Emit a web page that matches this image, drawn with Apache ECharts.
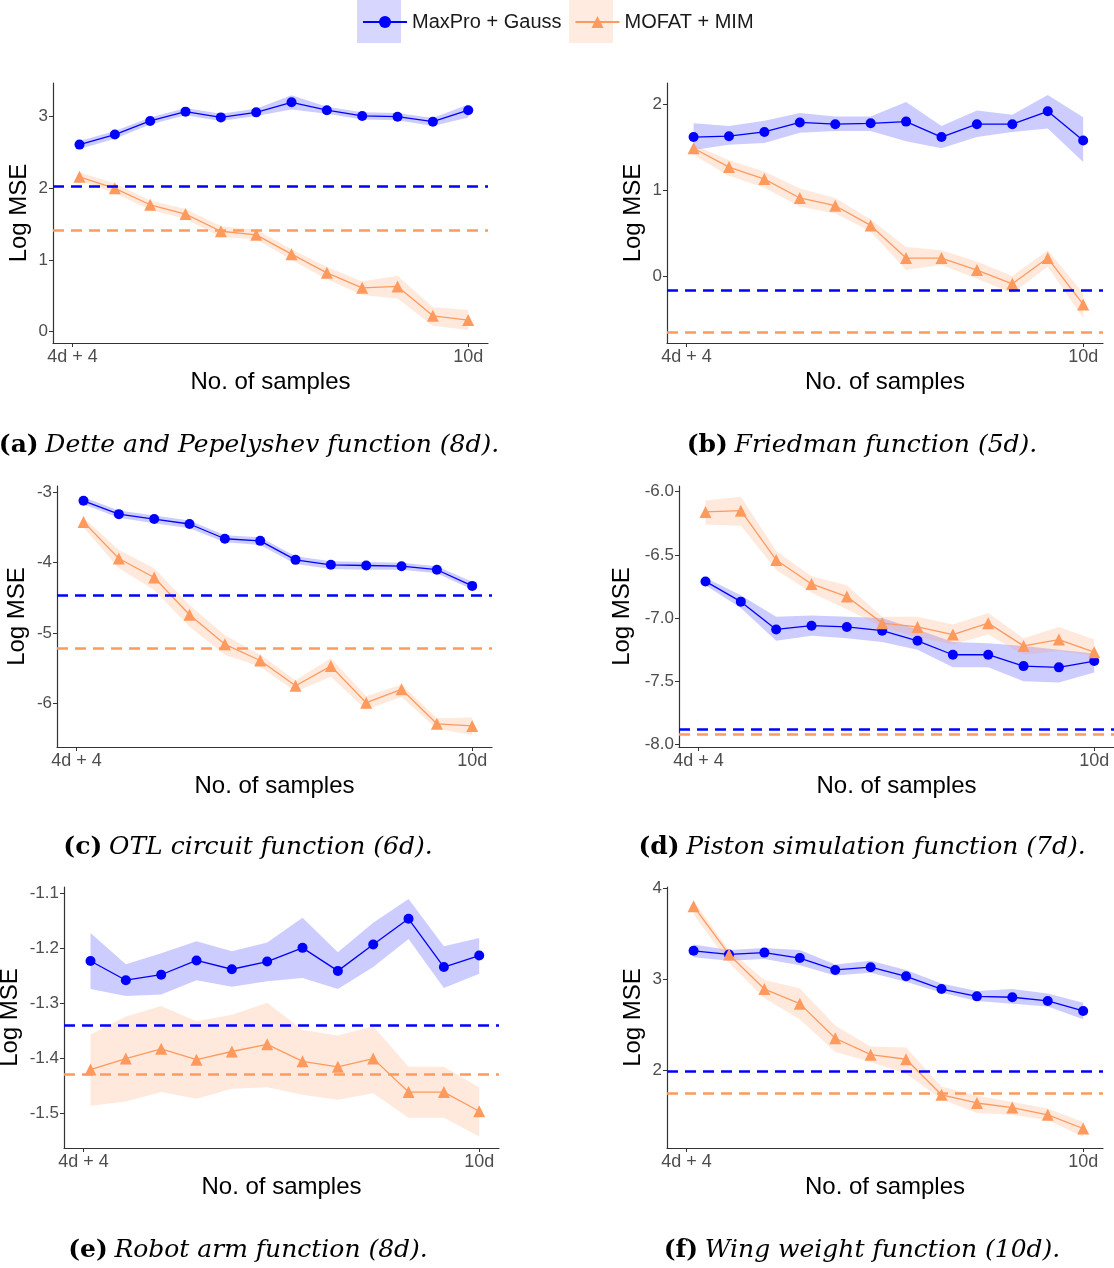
<!DOCTYPE html>
<html>
<head>
<meta charset="utf-8">
<script src="https://cdn.jsdelivr.net/npm/echarts@6/dist/echarts.min.js"></script>
<style>
html, body { margin: 0; padding: 0; background: #fff; }
#chart { width: 1114px; height: 1268px; }
</style>
</head>
<body>
<div id="chart"></div>
<script>
// 12 sample sizes, from 4d + 4 up to 10d
const sampleIdx = [0, 1, 2, 3, 4, 5, 6, 7, 8, 9, 10, 11];
const xTickPos = [-0.2, 11];
const xTickLabels = ['4d + 4', '10d'];

// (a) Dette and Pepelyshev
const aGauss   = [2.61, 2.75, 2.94, 3.07, 2.99, 3.06, 3.20, 3.09, 3.01, 3.00, 2.93, 3.09];
const aGaussLo = [2.55, 2.69, 2.89, 3.02, 2.94, 3.01, 3.10, 3.04, 2.96, 2.95, 2.87, 2.99];
const aGaussHi = [2.66, 2.80, 2.99, 3.12, 3.04, 3.11, 3.30, 3.14, 3.06, 3.05, 2.98, 3.17];
const aMim     = [2.16, 2.00, 1.77, 1.64, 1.40, 1.35, 1.08, 0.82, 0.61, 0.63, 0.22, 0.16];
const aMimLo   = [2.11, 1.93, 1.70, 1.57, 1.32, 1.29, 1.00, 0.73, 0.51, 0.46, 0.08, 0.02];
const aMimHi   = [2.22, 2.07, 1.83, 1.71, 1.47, 1.42, 1.15, 0.90, 0.70, 0.78, 0.34, 0.30];
const aRef     = [2.03, 1.41];

// (b) Friedman
const bGauss   = [1.62, 1.63, 1.68, 1.79, 1.77, 1.78, 1.80, 1.62, 1.77, 1.77, 1.92, 1.58];
const bGaussLo = [1.47, 1.53, 1.55, 1.67, 1.69, 1.69, 1.57, 1.49, 1.62, 1.68, 1.72, 1.33];
const bGaussHi = [1.78, 1.75, 1.81, 1.90, 1.86, 1.86, 2.03, 1.75, 1.93, 1.88, 2.11, 1.85];
const bMim     = [1.49, 1.27, 1.13, 0.91, 0.82, 0.59, 0.21, 0.21, 0.07, -0.09, 0.21, -0.33];
const bMimLo   = [1.41, 1.17, 1.03, 0.81, 0.73, 0.52, 0.07, 0.13, -0.03, -0.20, 0.11, -0.49];
const bMimHi   = [1.53, 1.35, 1.22, 1.02, 0.91, 0.66, 0.34, 0.30, 0.17, 0.00, 0.30, -0.20];
const bRef     = [-0.17, -0.66];

// (c) OTL circuit
const cGauss   = [-3.12, -3.31, -3.38, -3.45, -3.66, -3.69, -3.96, -4.03, -4.04, -4.05, -4.10, -4.33];
const cGaussLo = [-3.17, -3.36, -3.44, -3.51, -3.71, -3.75, -4.02, -4.09, -4.10, -4.10, -4.15, -4.38];
const cGaussHi = [-3.07, -3.26, -3.33, -3.40, -3.61, -3.64, -3.91, -3.98, -3.99, -4.00, -4.05, -4.27];
const cMim     = [-3.42, -3.94, -4.21, -4.74, -5.16, -5.39, -5.75, -5.47, -5.99, -5.80, -6.29, -6.32];
const cMimLo   = [-3.50, -4.08, -4.39, -4.91, -5.31, -5.48, -5.83, -5.62, -6.09, -5.91, -6.36, -6.45];
const cMimHi   = [-3.36, -3.82, -4.08, -4.60, -5.03, -5.31, -5.67, -5.36, -5.90, -5.73, -6.21, -6.20];
const cRef     = [-4.46, -5.22];

// (d) Piston simulation
const dGauss   = [-6.71, -6.87, -7.09, -7.06, -7.07, -7.10, -7.18, -7.29, -7.29, -7.38, -7.39, -7.34];
const dGaussLo = [-6.74, -6.92, -7.18, -7.14, -7.16, -7.19, -7.25, -7.39, -7.39, -7.50, -7.51, -7.43];
const dGaussHi = [-6.68, -6.82, -6.99, -6.98, -6.99, -7.00, -7.09, -7.19, -7.20, -7.22, -7.25, -7.28];
const dMim     = [-6.16, -6.15, -6.54, -6.73, -6.83, -7.04, -7.07, -7.13, -7.04, -7.22, -7.17, -7.27];
const dMimLo   = [-6.26, -6.27, -6.62, -6.80, -6.93, -7.07, -7.15, -7.21, -7.13, -7.29, -7.26, -7.30];
const dMimHi   = [-6.07, -6.04, -6.47, -6.67, -6.74, -6.99, -6.99, -7.05, -6.96, -7.16, -7.07, -7.17];
const dRef     = [-7.88, -7.92];

// (e) Robot arm
const eGauss   = [-1.223, -1.258, -1.248, -1.222, -1.238, -1.224, -1.199, -1.241, -1.193, -1.146, -1.234, -1.213];
const eGaussLo = [-1.274, -1.287, -1.284, -1.258, -1.270, -1.260, -1.254, -1.274, -1.234, -1.183, -1.272, -1.246];
const eGaussHi = [-1.172, -1.229, -1.209, -1.187, -1.205, -1.189, -1.144, -1.207, -1.153, -1.110, -1.196, -1.181];
const eMim     = [-1.421, -1.401, -1.383, -1.403, -1.388, -1.375, -1.406, -1.416, -1.401, -1.462, -1.462, -1.497];
const eMimLo   = [-1.487, -1.479, -1.462, -1.474, -1.456, -1.453, -1.467, -1.476, -1.464, -1.509, -1.509, -1.543];
const eMimHi   = [-1.357, -1.324, -1.305, -1.333, -1.321, -1.299, -1.349, -1.359, -1.342, -1.416, -1.416, -1.453];
const eRef     = [-1.339, -1.425];

// (f) Wing weight
const fGauss   = [3.31, 3.27, 3.29, 3.23, 3.10, 3.13, 3.03, 2.89, 2.81, 2.80, 2.76, 2.65];
const fGaussLo = [3.24, 3.20, 3.22, 3.15, 3.04, 3.07, 2.97, 2.85, 2.76, 2.73, 2.70, 2.56];
const fGaussHi = [3.38, 3.32, 3.34, 3.32, 3.16, 3.20, 3.10, 2.95, 2.87, 2.89, 2.84, 2.74];
const fMim     = [3.80, 3.27, 2.89, 2.73, 2.35, 2.17, 2.12, 1.73, 1.64, 1.59, 1.51, 1.36];
const fMimLo   = [3.71, 3.18, 2.79, 2.56, 2.20, 2.09, 1.96, 1.68, 1.53, 1.51, 1.45, 1.27];
const fMimHi   = [3.86, 3.32, 2.99, 2.90, 2.49, 2.26, 2.25, 1.82, 1.72, 1.65, 1.58, 1.43];
const fRef     = [1.99, 1.75];

const BLUE = '#0000ff';
const ORANGE = '#ff9a5e';
const BLUE_BAND = 'rgba(0,0,255,0.2)';
const ORANGE_BAND = 'rgba(255,154,94,0.22)';

const panels = [
    { tag: '(a)', title: 'Dette and Pepelyshev function (8d).', grid: { left: 53, top: 83, width: 435, height: 260 },
      yMin: -0.16, yMax: 3.47, yTicks: [0, 1, 2, 3], digits: 0, nameGap: 22, cap: [249, 445],
      g: aGauss, gLo: aGaussLo, gHi: aGaussHi, m: aMim, mLo: aMimLo, mHi: aMimHi, ref: aRef },
    { tag: '(b)', title: 'Friedman function (5d).', grid: { left: 667, top: 83, width: 436, height: 260 },
      yMin: -0.78, yMax: 2.25, yTicks: [0, 1, 2], digits: 0, nameGap: 22, cap: [862, 445],
      g: bGauss, gLo: bGaussLo, gHi: bGaussHi, m: bMim, mLo: bMimLo, mHi: bMimHi, ref: bRef },
    { tag: '(c)', title: 'OTL circuit function (6d).', grid: { left: 57, top: 486, width: 435, height: 261 },
      yMin: -6.62, yMax: -2.91, yTicks: [-6, -5, -4, -3], digits: 0, nameGap: 28, cap: [248, 847],
      g: cGauss, gLo: cGaussLo, gHi: cGaussHi, m: cMim, mLo: cMimLo, mHi: cMimHi, ref: cRef },
    { tag: '(d)', title: 'Piston simulation function (7d).', grid: { left: 679, top: 486, width: 435, height: 261 },
      yMin: -8.02, yMax: -5.955, yTicks: [-8, -7.5, -7, -6.5, -6], digits: 1, nameGap: 45, cap: [862, 847],
      g: dGauss, gLo: dGaussLo, gHi: dGaussHi, m: dMim, mLo: dMimLo, mHi: dMimHi, ref: dRef },
    { tag: '(e)', title: 'Robot arm function (8d).', grid: { left: 64, top: 887, width: 435, height: 261 },
      yMin: -1.564, yMax: -1.088, yTicks: [-1.5, -1.4, -1.3, -1.2, -1.1], digits: 1, nameGap: 42, cap: [248, 1250],
      g: eGauss, gLo: eGaussLo, gHi: eGaussHi, m: eMim, mLo: eMimLo, mHi: eMimHi, ref: eRef },
    { tag: '(f)', title: 'Wing weight function (10d).', grid: { left: 667, top: 887, width: 436, height: 261 },
      yMin: 1.146, yMax: 4.01, yTicks: [2, 3, 4], digits: 0, nameGap: 22, cap: [862, 1250],
      g: fGauss, gLo: fGaussLo, gHi: fGaussHi, m: fMim, mLo: fMimLo, mHi: fMimHi, ref: fRef }
];

function pts(ys) {
    return ys.map((y, i) => [sampleIdx[i], y]);
}
function bandRows(lo, hi) {
    return lo.map((v, i) => [sampleIdx[i], v, hi[i]]);
}

// ribbon: one polygon through all points, drawn on the first item
function bandSeries(i, rows, fill) {
    return {
        type: 'custom', xAxisIndex: i, yAxisIndex: i, silent: true,
        encode: { x: 0, y: [1, 2] },
        data: rows,
        renderItem: function (params, api) {
            if (params.dataIndexInside !== 0) return null;
            const top = [], bot = [];
            for (let k = 0; k < rows.length; k++) {
                top.push(api.coord([api.value(0, k), api.value(2, k)]));
                bot.push(api.coord([api.value(0, k), api.value(1, k)]));
            }
            return { type: 'polygon', shape: { points: top.concat(bot.reverse()) }, style: { fill: fill } };
        }
    };
}

const axisCol = '#333333';
const labelCol = '#4d4d4d';

let grids = [], xAxes = [], yAxes = [], series = [], graphics = [];

panels.forEach((p, i) => {
    grids.push(Object.assign({ outerBoundsMode: 'none', containLabel: false }, p.grid));
    xAxes.push({
        type: 'value', gridIndex: i, min: -0.75, max: 11.56,
        name: 'No. of samples', nameLocation: 'middle', nameGap: 27,
        nameTextStyle: { fontSize: 24, color: '#000', fontFamily: 'Liberation Sans' },
        splitLine: { show: false },
        axisLine: { onZero: false, lineStyle: { color: axisCol, width: 1.2 } },
        axisTick: { customValues: xTickPos, length: 4, lineStyle: { color: axisCol } },
        axisLabel: {
            customValues: xTickPos, margin: 5, fontSize: 18, color: labelCol, fontFamily: 'Liberation Sans',
            formatter: v => xTickLabels[xTickPos.indexOf(v)]
        }
    });
    yAxes.push({
        type: 'value', gridIndex: i, min: p.yMin, max: p.yMax,
        name: 'Log MSE', nameLocation: 'middle', nameGap: p.nameGap, nameRotate: 90,
        nameTextStyle: { fontSize: 24, color: '#000', fontFamily: 'Liberation Sans' },
        splitLine: { show: false },
        axisLine: { show: true, onZero: false, lineStyle: { color: axisCol, width: 1.2 } },
        axisTick: { show: true, customValues: p.yTicks, length: 4, lineStyle: { color: axisCol } },
        axisLabel: {
            customValues: p.yTicks, margin: 5, fontSize: 17, color: labelCol, fontFamily: 'Liberation Sans',
            formatter: v => v.toFixed(p.digits)
        }
    });

    series.push(bandSeries(i, bandRows(p.gLo, p.gHi), BLUE_BAND));
    series.push(bandSeries(i, bandRows(p.mLo, p.mHi), ORANGE_BAND));

    series.push({
        name: 'MaxPro + Gauss', type: 'line', xAxisIndex: i, yAxisIndex: i,
        data: pts(p.g), symbol: 'circle', symbolSize: 10, color: BLUE,
        lineStyle: { color: BLUE, width: 1.3 }, itemStyle: { color: BLUE },
        markLine: {
            silent: true, symbol: ['none', 'none'], label: { show: false },
            lineStyle: { color: BLUE, type: [11, 7], width: 2.5 },
            data: [{ yAxis: p.ref[0] }]
        }
    });
    series.push({
        name: 'MOFAT + MIM', type: 'line', xAxisIndex: i, yAxisIndex: i,
        data: pts(p.m), symbol: 'triangle', symbolSize: 12, color: ORANGE,
        lineStyle: { color: ORANGE, width: 1.3 }, itemStyle: { color: ORANGE },
        markLine: {
            silent: true, symbol: ['none', 'none'], label: { show: false },
            lineStyle: { color: ORANGE, type: [11, 7], width: 2.5 },
            data: [{ yAxis: p.ref[1] }]
        }
    });

    graphics.push({
        type: 'text', x: p.cap[0], y: p.cap[1],
        style: {
            text: '{b|' + p.tag + '}  {i|' + p.title + '}',
            align: 'center', verticalAlign: 'middle',
            rich: {
                b: { fontFamily: 'DejaVu Serif', fontWeight: 'bold', fontSize: 25, fill: '#000' },
                i: { fontFamily: 'DejaVu Serif', fontStyle: 'italic', fontSize: 25, fill: '#000' }
            }
        }
    });
});

// legend key backgrounds
graphics.push({ type: 'rect', z: -10, shape: { x: 357, y: 0, width: 44, height: 43 }, style: { fill: 'rgba(0,0,255,0.16)' } });
graphics.push({ type: 'rect', z: -10, shape: { x: 569, y: 0, width: 44, height: 43 }, style: { fill: 'rgba(255,154,94,0.2)' } });

const chart = echarts.init(document.getElementById('chart'));
chart.setOption({
    animation: false,
    backgroundColor: '#fff',
    legend: {
        data: ['MaxPro + Gauss', 'MOFAT + MIM'],
        left: 357, top: 7, itemWidth: 44, itemHeight: 15, itemGap: 13,
        textStyle: { fontSize: 20, color: '#1a1a1a', fontFamily: 'Liberation Sans' }
    },
    grid: grids,
    xAxis: xAxes,
    yAxis: yAxes,
    series: series,
    graphic: graphics
});
</script>
</body>
</html>
